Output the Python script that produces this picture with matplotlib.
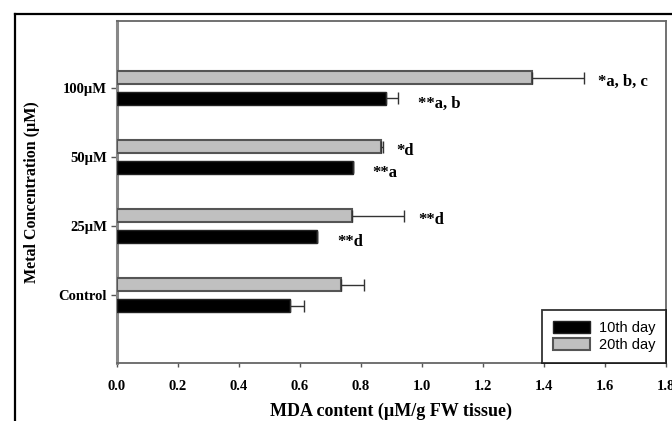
import matplotlib
matplotlib.use("Agg")
import matplotlib.pyplot as plt
from matplotlib.lines import Line2D
import numpy as np

categories = ["Control", "25µM", "50µM", "100µM"]
day10 = [0.568, 0.658, 0.773, 0.883]
day10_err = [0.045, 0.0, 0.0, 0.040]
day20 = [0.735, 0.770, 0.866, 1.361]
day20_err = [0.075, 0.172, 0.007, 0.171]
labels10 = ["", "**d", "**a", "**a, b"]
labels20 = ["", "**d", "*d", "*a, b, c"]
xticks = [0.0, 0.2, 0.4, 0.6, 0.8, 1.0, 1.2, 1.4, 1.6, 1.8]

serif = "Liberation Serif"

fig = plt.figure(figsize=(6.72, 4.21), dpi=100)
ax = fig.add_axes([0.1735, 0.138, 0.8175, 0.812])

y = np.arange(len(categories))
h = 0.19
off = 0.15
ax.barh(y - off, day10, height=h, color="black", edgecolor="#222222", linewidth=1.0,
        xerr=[np.zeros(4), day10_err], error_kw=dict(ecolor="#333333", elinewidth=1.0, capsize=4, capthick=1.0),
        label="10th day", zorder=3)
ax.barh(y + off, day20, height=h, color="#c0c0c0", edgecolor="#555555", linewidth=1.5,
        xerr=[np.zeros(4), day20_err], error_kw=dict(ecolor="#333333", elinewidth=1.0, capsize=4, capthick=1.0),
        label="20th day", zorder=3)

# annotations
for i in range(len(categories)):
    if labels20[i]:
        xt = day20[i] + day20_err[i] + 0.045
        ax.text(xt, y[i] + off - 0.06, labels20[i], fontfamily=serif, fontweight="bold",
                fontsize=12, va="center", ha="left")
    if labels10[i]:
        xt = day10[i] + day10_err[i] + 0.065
        ax.text(xt, y[i] - off - 0.08, labels10[i], fontfamily=serif, fontweight="bold",
                fontsize=12, va="center", ha="left")

ax.set_xlim(0, 1.8)
ax.set_ylim(-0.98, 3.97)
ax.set_xticks(xticks)
ax.set_xticklabels([f"{v:.1f}" for v in xticks], fontfamily=serif, fontweight="bold", fontsize=10.5)
ax.set_yticks(y)
ax.set_yticklabels(categories, fontfamily=serif, fontweight="bold", fontsize=10.5)
ax.tick_params(axis="x", direction="out", length=3, width=1, color="#555555", pad=9)
ax.tick_params(axis="y", direction="out", length=4, width=1, color="#555555", pad=3)

ax.set_xlabel("MDA content (µM/g FW tissue)", fontfamily=serif, fontweight="bold", fontsize=13, labelpad=7)
ax.set_ylabel("Metal Concentration (µM)", fontfamily=serif, fontweight="bold", fontsize=11.5, labelpad=13)

for s in ["top", "right", "bottom"]:
    ax.spines[s].set_color("#666666")
    ax.spines[s].set_linewidth(1.3)
ax.spines["left"].set_color("#888888")
ax.spines["left"].set_linewidth(2.2)

leg = ax.legend(loc="lower right", frameon=True, fancybox=False, borderaxespad=0,
                prop={"family": "Liberation Sans", "size": 10.5}, handlelength=2.5,
                handleheight=0.85, borderpad=0.75, labelspacing=0.2, handletextpad=0.6)
leg.get_frame().set_edgecolor("black")
leg.get_frame().set_linewidth(1.3)

# outer frame
fx = 14.5 / 672
fy = 1 - 13.5 / 421
fig.add_artist(Line2D([fx, fx], [0, fy], transform=fig.transFigure, color="black", lw=1.6))
fig.add_artist(Line2D([fx, 1], [fy, fy], transform=fig.transFigure, color="black", lw=1.6))

fig.savefig("out.png", dpi=100)
